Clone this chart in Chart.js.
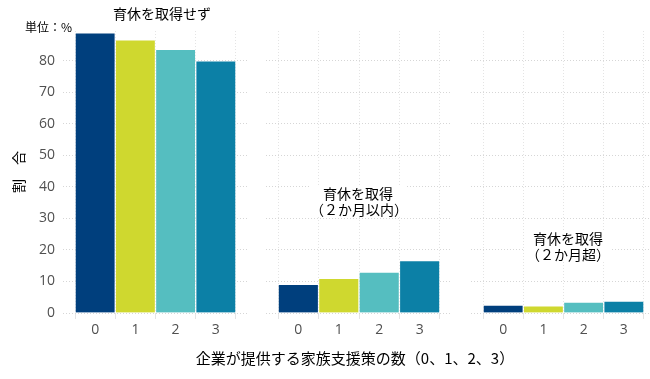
<!DOCTYPE html>
<html>
<head>
<meta charset="utf-8">
<script src="https://cdn.jsdelivr.net/npm/chart.js@4"></script>
<style>
  body { margin: 0; background: #fff; }
  #wrap { position: relative; width: 650px; height: 379px; overflow: hidden;
          font-family: "Noto Sans CJK JP", sans-serif; color: #000; }
  canvas { position: absolute; top: 0; }
  .lbl { position: absolute; white-space: nowrap; text-align: center; line-height: 16px; }
  .bg { background: #fff; }
</style>
</head>
<body>
<div id="wrap">
  <canvas id="c1" width="250" height="379" style="left:0"></canvas>
  <canvas id="c2" width="206" height="379" style="left:252px"></canvas>
  <canvas id="c3" width="192" height="379" style="left:458px"></canvas>

  <div class="lbl" style="left:25px; top:19px; font-size:12px;">単位：%</div>
  <div class="lbl" style="left:110px; top:5px; width:104px; font-size:14px;">育休を取得せず</div>
  <div class="lbl bg" style="left:310px; top:185px; width:96px; font-size:14px;">育休を取得<br>（２か月以内）</div>
  <div class="lbl bg" style="left:525px; top:230px; width:86px; font-size:14px;">育休を取得<br>（２か月超）</div>
  <div class="lbl" style="left:155px; top:350px; width:400px; font-size:15px;">企業が提供する家族支援策の数（0、1、2、3）</div>
</div>
<script>
// number of family support measures offered
const categories = ['0', '1', '2', '3'];
const colors = ['#003f7d', '#cfd82f', '#55bec0', '#0c80a6'];

// share (%) by childcare-leave status
const noLeave = [88.9, 86.7, 83.7, 80.0];
const leaveUpTo2m = [9.1, 11.0, 13.0, 16.6];
const leaveOver2m = [2.5, 2.3, 3.5, 3.8];

const yTicks = [0, 10, 20, 30, 40, 50, 60, 70, 80];

const tickColor = '#505050';
const tickFont = { family: '"Open Sans", sans-serif', size: 14 };

function makeChart(id, values, opts) {
  const ctx = document.getElementById(id).getContext('2d');
  return new Chart(ctx, {
    type: 'bar',
    data: {
      datasets: [{
        data: values.map((v, i) => ({ x: i, y: v })),
        backgroundColor: colors,
        borderColor: 'rgba(255,255,255,0.25)',
        borderWidth: 1,
        barPercentage: 1,
        categoryPercentage: 1
      }]
    },
    options: {
      responsive: false,
      animation: false,
      layout: { padding: { top: 31, left: opts.padLeft, right: opts.padRight, bottom: 36 } },
      plugins: { legend: { display: false }, tooltip: { enabled: false } },
      scales: {
        x: {
          type: 'linear',
          offset: false,
          min: -0.8,
          max: opts.xMax,
          border: { display: false, dash: [1, 2] },
          grid: { color: '#e4e4e4', tickLength: 6 },
          ticks: {
            stepSize: 1,
            includeBounds: false,
            padding: 3,
            color: tickColor,
            font: tickFont,
            callback: v => categories[v]
          },
          afterFit: s => { s.height = 30; }
        },
        y: {
          min: 0,
          max: 89.5,
          border: { display: false, dash: [1, 2] },
          grid: { color: '#d6d6d6', drawTicks: false },
          ticks: {
            display: opts.showY,
            stepSize: 10,
            includeBounds: false,
            padding: 8,
            color: tickColor,
            font: tickFont,
            callback: v => yTicks.includes(v) ? v : ''
          },
          title: {
            display: opts.showY,
            text: '割　合',
            color: '#000',
            padding: { top: 10, bottom: 0 },
            font: { family: '"Noto Sans CJK JP", sans-serif', size: 14 }
          },
          afterFit: s => { s.width = opts.showY ? 63 : 0; }
        }
      }
    }
  });
}

makeChart('c1', noLeave, { padLeft: 0, padRight: 2, xMax: 3.8, showY: true });
makeChart('c2', leaveUpTo2m, { padLeft: 14, padRight: 6, xMax: 3.8, showY: false });
makeChart('c3', leaveOver2m, { padLeft: 13, padRight: 0, xMax: 3.65, showY: false });
</script>
</body>
</html>
